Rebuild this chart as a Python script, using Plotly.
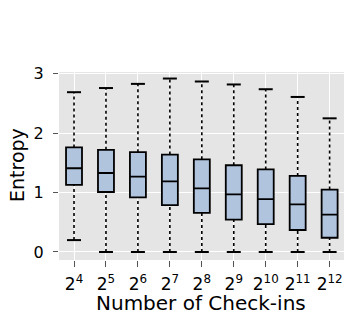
import plotly.graph_objects as go

categories = ["2<sup>4</sup>", "2<sup>5</sup>", "2<sup>6</sup>", "2<sup>7</sup>", "2<sup>8</sup>",
              "2<sup>9</sup>", "2<sup>10</sup>", "2<sup>11</sup>", "2<sup>12</sup>"]
lower_whisker = [0.20, 0.0, 0.0, 0.0, 0.0, 0.0, 0.0, 0.0, 0.0]
q1 = [1.13, 1.01, 0.92, 0.79, 0.66, 0.545, 0.47, 0.37, 0.24]
median = [1.41, 1.33, 1.27, 1.19, 1.07, 0.97, 0.89, 0.80, 0.63]
q3 = [1.76, 1.72, 1.68, 1.64, 1.56, 1.46, 1.39, 1.28, 1.05]
upper_whisker = [2.69, 2.76, 2.83, 2.92, 2.87, 2.82, 2.74, 2.61, 2.25]

xs = list(range(len(categories)))
fig = go.Figure()

# whiskers (dotted)
wx, wy = [], []
for i in xs:
    wx += [i, i, None, i, i, None]
    wy += [lower_whisker[i], q1[i], None, q3[i], upper_whisker[i], None]
fig.add_trace(go.Scatter(x=wx, y=wy, mode="lines",
                         line=dict(color="black", width=1.6, dash="dot"),
                         hoverinfo="skip", showlegend=False))
# caps
fig.add_trace(go.Scatter(x=xs + xs, y=lower_whisker + upper_whisker, mode="markers",
                         marker=dict(symbol="line-ew", size=10,
                                     line=dict(color="black", width=2)),
                         hoverinfo="skip", showlegend=False))
# boxes
fig.add_trace(go.Box(x=xs, q1=q1, median=median, q3=q3,
                     lowerfence=q1, upperfence=q3,
                     fillcolor="#b0c4de", line=dict(color="black", width=1.8),
                     width=0.5, whiskerwidth=0, showlegend=False, boxpoints=False))

font = "DejaVu Sans, sans-serif"
fig.update_layout(
    width=344, height=322,
    margin=dict(l=59, r=0, t=72, b=62, autoexpand=False),
    paper_bgcolor="white", plot_bgcolor="#e5e5e5",
    font=dict(family=font, color="black", size=16),
    showlegend=False,
    xaxis=dict(range=[-0.47, 8.45], tickmode="array", tickvals=xs, ticktext=categories,
               showgrid=True, gridcolor="white", gridwidth=1.2, zeroline=False,
               ticks="outside", ticklen=6, tickcolor="#555555", tickwidth=1,
               automargin=False, ticklabelstandoff=3,
               tickfont=dict(size=17, family=font, color="black")),
    yaxis=dict(range=[-0.135, 3.03], tickvals=[0, 1, 2, 3],
               showgrid=True, gridcolor="white", gridwidth=1.2, zeroline=False,
               ticks="outside", ticklen=5, tickcolor="#555555", tickwidth=1,
               automargin=False, ticklabelstandoff=6,
               tickfont=dict(size=16, family=font, color="black")),
    annotations=[
        dict(text="Number of Check-ins", xref="paper", yref="paper", x=(201 - 59) / 285,
             y=-(303 - 260) / 188, xanchor="center", yanchor="middle", showarrow=False,
             font=dict(size=20, family=font, color="black")),
        dict(text="Entropy", xref="paper", yref="paper", x=-(59 - 17) / 285,
             y=(260 - 165) / 188, xanchor="center", yanchor="middle", showarrow=False,
             textangle=-90, font=dict(size=19, family=font, color="black")),
    ],
)
fig.write_html("out.html", config={"displayModeBar": False},
               post_script="document.body.style.margin='0';document.body.style.overflow='hidden';")
